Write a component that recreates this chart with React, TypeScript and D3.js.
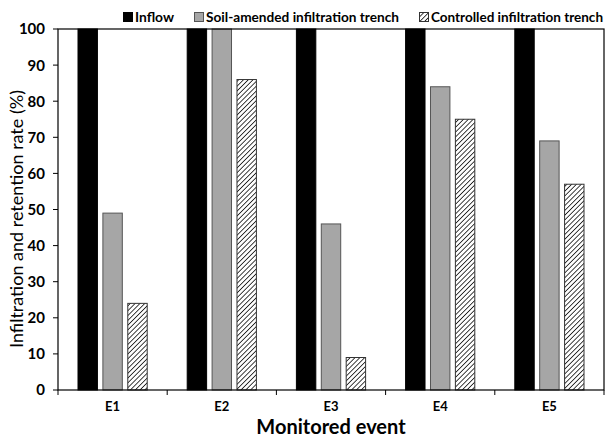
import * as d3 from 'd3';

const events = ['E1', 'E2', 'E3', 'E4', 'E5'];
const seriesNames = ['Inflow', 'Soil-amended infiltration trench', 'Controlled infiltration trench'];
const inflow = [100, 100, 100, 100, 100];
const soilAmended = [49, 100, 46, 84, 69];
const controlled = [24, 86, 9, 75, 57];
const yTicks = [0, 10, 20, 30, 40, 50, 60, 70, 80, 90, 100];

const W = 608;
const H = 437;
const margin = { top: 29, right: 4, bottom: 47, left: 58 };
const font = 'Lato, "Open Sans", sans-serif';

export default function App() {
  const innerW = W - margin.left - margin.right;
  const innerH = H - margin.top - margin.bottom;

  const x = d3.scaleBand<string>().domain(events).range([0, innerW]);
  const inner = d3.scaleBand<number>().domain([0, 1, 2]).range([20, x.bandwidth() - 20]).paddingInner(0.22);
  const y = d3.scaleLinear().domain([0, 100]).range([innerH, 0]);

  const series = [inflow, soilAmended, controlled];
  const fills = ['#000000', '#a6a6a6', 'url(#hatch)'];
  const strokes = ['#000000', '#555555', '#333333'];

  // legend layout: square position and text width
  const legendX = [123, 194, 419];
  const legendTextW = [39, 193, 172];

  return (
    <svg width={W} height={H} style={{ position: 'absolute', left: 0, top: 0, fontFamily: font }}>
      <defs>
        <pattern id="hatch" patternUnits="userSpaceOnUse" width={3.4} height={3.4} patternTransform="rotate(45)">
          <rect width={3.4} height={3.4} fill="#fff" />
          <line x1={0} y1={0} x2={0} y2={3.4} stroke="#000" strokeWidth={1.5} />
        </pattern>
      </defs>
      <rect width={W} height={H} fill="#fff" />

      {/* legend */}
      {seriesNames.map((name, i) => (
        <g key={name} transform={`translate(${legendX[i]},12)`}>
          <rect x={0.5} y={0.5} width={9} height={9} fill={fills[i]} stroke={strokes[i]} strokeWidth={1} />
          <text
            x={12}
            y={10}
            fontSize={14}
            fontWeight="bold"
            fill="#000"
            textLength={legendTextW[i]}
            lengthAdjust="spacingAndGlyphs"
          >
            {name}
          </text>
        </g>
      ))}

      <g transform={`translate(${margin.left},${margin.top})`}>
        {/* bars */}
        {series.map((vals, si) =>
          events.map((ev, ei) => (
            <rect
              key={`${si}-${ev}`}
              x={(x(ev) ?? 0) + (inner(si) ?? 0)}
              y={y(vals[ei])}
              width={inner.bandwidth()}
              height={innerH - y(vals[ei])}
              fill={fills[si]}
              stroke={strokes[si]}
              strokeWidth={1}
            />
          ))
        )}

        {/* frame */}
        <rect x={0} y={0} width={innerW} height={innerH} fill="none" stroke="#000" strokeWidth={1.2} />

        {/* y axis */}
        {yTicks.map((t) => (
          <g key={t} transform={`translate(0,${y(t)})`}>
            <line x1={-5} x2={0} stroke="#000" strokeWidth={1} />
            <text x={-13} dy="0.36em" textAnchor="end" fontSize={15} fontWeight="bold" fill="#000">
              {t}
            </text>
          </g>
        ))}

        {/* x axis */}
        {[...events.map((ev) => x(ev) ?? 0), innerW].map((px, i) => (
          <line key={i} x1={px} x2={px} y1={innerH} y2={innerH + 5} stroke="#000" strokeWidth={1} />
        ))}
        {events.map((ev) => (
          <text
            key={ev}
            x={(x(ev) ?? 0) + x.bandwidth() / 2}
            y={innerH + 21}
            textAnchor="middle"
            fontSize={13}
            fontWeight="bold"
            fill="#000"
          >
            {ev}
          </text>
        ))}
      </g>

      <text x={331} y={434} textAnchor="middle" fontSize={20} fontWeight="bold" fill="#000">
        Monitored event
      </text>
      <text
        transform={`translate(23,${margin.top + 190}) rotate(-90)`}
        textAnchor="middle"
        fontSize={18}
        fill="#000"
      >
        Infiltration and retention rate (%)
      </text>
    </svg>
  );
}
